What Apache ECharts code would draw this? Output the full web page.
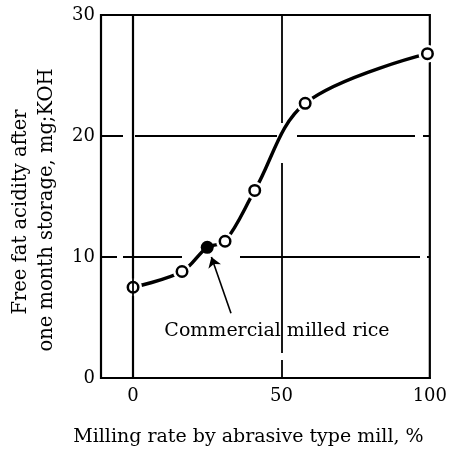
<!DOCTYPE html>
<html>
<head>
<meta charset="utf-8">
<script src="https://cdn.jsdelivr.net/npm/echarts@6/dist/echarts.min.js"></script>
<style>html,body{margin:0;padding:0;background:#fff}#c{width:450px;height:453px}</style>
</head>
<body>
<div id="c"></div>
<script>
// Data
const millingRate = [0, 16.5, 31, 41, 58, 99.2];
const freeFatAcidity = [7.5, 8.8, 11.3, 15.5, 22.7, 26.8];
const commercialRate = [25];
const commercialAcidity = [10.8];
const xTickValues = [0, 50, 100];
const xGridValues = [0, 50];
const yGridValues = [10, 20];
const annotationText = ['Commercial milled rice'];
const annotationTextPos = [[48.5, 3.9]];
const arrowFrom = [[33.0, 5.35]];
const arrowTo = [[26.4, 10.0]];

const X_MIN = -10.8, X_MAX = 100, Y_MIN = 0, Y_MAX = 30;
const openPts = millingRate.map((x, i) => [x, freeFatAcidity[i]]);
const filledPts = commercialRate.map((x, i) => [x, commercialAcidity[i]]);
const curvePts = openPts.concat(filledPts).sort((a, b) => a[0] - b[0]);

// dash patterns for the hand-drawn-looking gridlines
const vDash = {0: 'solid', 50: [108, 40, 190, 7, 30]};
const hDash = {10: [16, 6, 59, 58, 180, 7, 30], 20: [22, 12, 142, 20, 118, 8, 30]};

const FONT = 'DejaVu Serif';
const chart = echarts.init(document.getElementById('c'), null, {renderer: 'canvas'});
chart.setOption({
  animation: false,
  backgroundColor: '#fff',
  grid: {left: 101, right: 14, top: 15, bottom: 75, show: true, borderColor: '#000', borderWidth: 2.2, containLabel: false},
  xAxis: {
    type: 'value', min: X_MIN, max: X_MAX,
    axisLine: {show: true, lineStyle: {color: '#000', width: 2.2}},
    axisTick: {show: false},
    axisLabel: {customValues: xTickValues, color: '#000', fontFamily: FONT, fontSize: 18, margin: 9},
    splitLine: {show: false},
    name: 'Milling rate by abrasive type mill, %',
    nameLocation: 'middle', nameGap: 50,
    nameTextStyle: {color: '#000', fontFamily: FONT, fontSize: 19, padding: [0, 34, 0, 0]}
  },
  yAxis: {
    type: 'value', min: Y_MIN, max: Y_MAX, interval: 10,
    axisLine: {show: true, lineStyle: {color: '#000', width: 2.2}},
    axisTick: {show: false},
    axisLabel: {color: '#000', fontFamily: FONT, fontSize: 18, margin: 6},
    splitLine: {show: false}
  },
  graphic: [
    {type: 'text', x: 21, y: 212, rotation: Math.PI / 2,
     style: {text: 'Free fat acidity after', font: '19.5px "DejaVu Serif"', fill: '#000', align: 'center', verticalAlign: 'middle'}},
    {type: 'text', x: 47, y: 210, rotation: Math.PI / 2,
     style: {text: 'one month storage, mg;KOH', font: '19.5px "DejaVu Serif"', fill: '#000', align: 'center', verticalAlign: 'middle'}}
  ],
  series: [
    {
      type: 'line', data: [], z: 1, silent: true,
      markLine: {
        silent: true, symbol: 'none', label: {show: false},
        data: xGridValues.map(v => [
          {coord: [v, Y_MAX], lineStyle: {color: '#000', width: 1.8, type: vDash[v]}},
          {coord: [v, Y_MIN]}
        ]).concat(yGridValues.map(v => [
          {coord: [X_MIN, v], lineStyle: {color: '#000', width: 1.8, type: hDash[v]}},
          {coord: [X_MAX, v]}
        ]))
      }
    },
    {
      type: 'line', data: curvePts, smooth: 0.35, symbol: 'none', z: 2, silent: true,
      lineStyle: {color: '#000', width: 3.4}
    },
    {
      type: 'scatter', data: openPts, symbol: 'circle', symbolSize: 18, z: 3, silent: true,
      itemStyle: {color: '#fff', opacity: 1}
    },
    {
      type: 'scatter', data: openPts, symbol: 'circle', symbolSize: 10.5, z: 4, silent: true,
      itemStyle: {color: '#fff', borderColor: '#000', borderWidth: 2.5, opacity: 1}
    },
    {
      type: 'scatter', data: filledPts, symbol: 'circle', symbolSize: 13, z: 4, silent: true,
      itemStyle: {color: '#000', opacity: 1}
    },
    {
      type: 'scatter', z: 5, silent: true, symbolSize: 1, itemStyle: {color: 'rgba(0,0,0,0)', opacity: 1},
      data: annotationTextPos.map((p, i) => ({value: p, name: annotationText[i]})),
      label: {show: true, position: 'inside', formatter: '{b}', color: '#000', opacity: 1, fontFamily: FONT, fontSize: 19, textBorderWidth: 0},
      markLine: {
        silent: true, symbol: ['none', 'arrow'], symbolSize: 10, label: {show: false},
        lineStyle: {color: '#000', width: 1.6, type: 'solid', opacity: 1},
        data: arrowFrom.map((p, i) => [{coord: p}, {coord: arrowTo[i]}])
      }
    }
  ]
});
</script>
</body>
</html>
